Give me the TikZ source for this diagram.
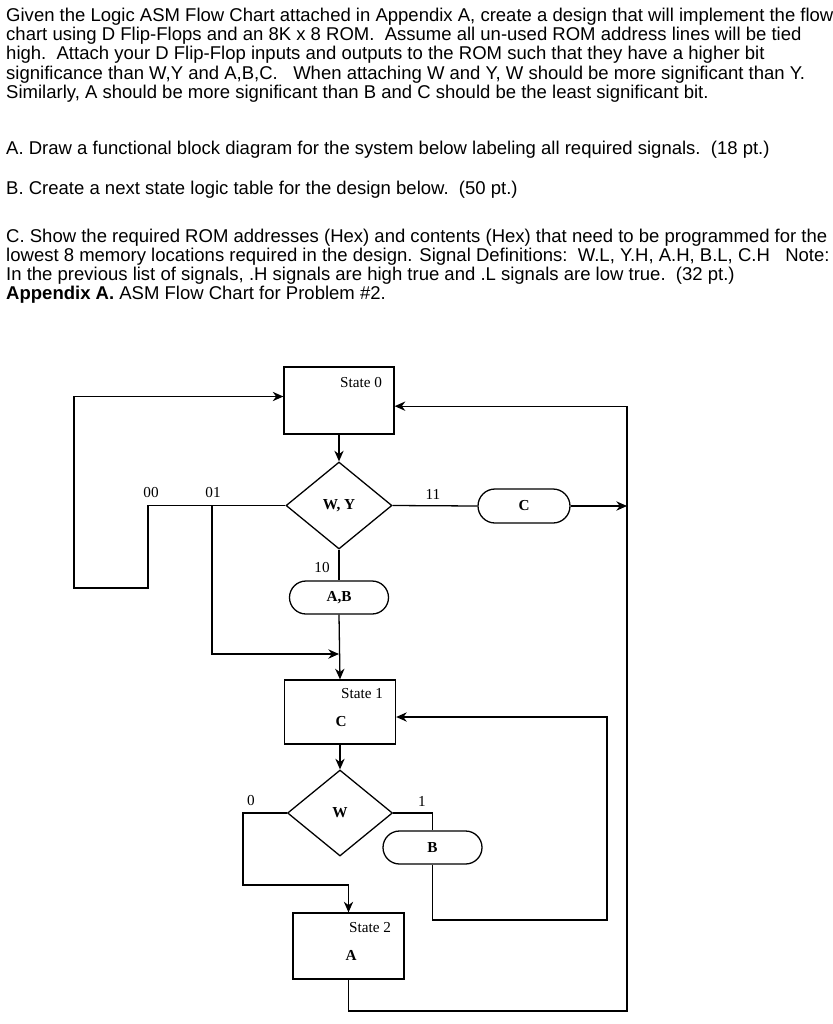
\documentclass[tikz,border=0pt]{standalone}
\usepackage{fontspec}
\setmainfont{Liberation Sans}
\newfontfamily\chartfont{Liberation Serif}
\usetikzlibrary{arrows.meta,shapes,positioning}

\begin{document}
\begin{tikzpicture}[x=0.03cm,y=-0.03cm,
    >={Stealth[length=0.32cm,width=0.28cm]},
    txt/.style={anchor=base west,inner sep=0pt,font=\fontsize{15.8}{18}\selectfont},
    wire/.style={draw,line width=1.1pt},
    statebox/.style={draw,rectangle,line width=1.1pt,inner sep=0pt},
    decision/.style={draw,diamond,line width=1.1pt,inner sep=0pt,font=\chartfont\bfseries\fontsize{13}{15}\selectfont},
    outbox/.style={draw,rounded rectangle,line width=1.1pt,inner sep=0pt,font=\chartfont\bfseries\fontsize{13}{15}\selectfont},
    lbl/.style={inner sep=0pt,font=\chartfont\fontsize{13}{15}\selectfont},
    blbl/.style={inner sep=0pt,font=\chartfont\bfseries\fontsize{13}{15}\selectfont}]
  \useasboundingbox (0,0) rectangle (833,1024);

  % question text
  \node[txt] (q1) at (6,21.5) {Given the Logic ASM Flow Chart attached in Appendix A, create a design that will implement the flow};
  \node[txt] (q2) at (6,40.5) {chart using D Flip-Flops and an 8K x 8 ROM.\ \ Assume all un-used ROM address lines will be tied};
  \node[txt] (q3) at (6,59.5) {high.\ \ Attach your D Flip-Flop inputs and outputs to the ROM such that they have a higher bit};
  \node[txt] (q4) at (6,79) {significance than W,Y and A,B,C.\ \ \ When attaching W and Y, W should be more significant than Y.};
  \node[txt] (q5) at (6,98.5) {Similarly, A should be more significant than B and C should be the least significant bit.};
  \node[txt] (pa) at (6,154) {A. Draw a functional block diagram for the system below labeling all required signals.\ \ (18 pt.)};
  \node[txt] (pb) at (6,194) {B. Create a next state logic table for the design below.\ \ (50 pt.)};
  \node[txt] (pc1) at (6,242) {C. Show the required ROM addresses (Hex) and contents (Hex) that need to be programmed for the};
  \node[txt] (pc2) at (6,261) {lowest 8 memory locations required in the design. Signal Definitions:\ \ W.L, Y.H, A.H, B.L, C.H\ \ \ Note:};
  \node[txt] (pc3) at (6,280) {In the previous list of signals, .H signals are high true and .L signals are low true.\ \ (32 pt.)};
  \node[txt] (app) at (6,299) {\textbf{Appendix A.} ASM Flow Chart for Problem \#2.};

  % flow chart
  \node[statebox,minimum width=3.3cm,minimum height=2.01cm] (s0) at (339,400.5) {};
  \node[lbl] (s0t) at (361,383) {State 0};
  \node[decision,minimum width=3.18cm,minimum height=2.61cm] (wy) at (339,505.5) {W, Y};
  \node[outbox,minimum width=2.76cm,minimum height=1.02cm] (oc) at (524,506) {C};
  \node[outbox,minimum width=2.97cm,minimum height=0.99cm] (oab) at (339,597.5) {A,B};
  \node[statebox,minimum width=3.33cm,minimum height=1.92cm] (s1) at (340,712) {};
  \node[lbl] (s1t) at (362,694) {State 1};
  \node[blbl] (s1c) at (341,722) {C};
  \node[decision,minimum width=3.15cm,minimum height=2.58cm] (wd) at (340,813) {W};
  \node[outbox,minimum width=2.97cm,minimum height=0.99cm] (ob) at (432.5,847.5) {B};
  \node[statebox,minimum width=3.33cm,minimum height=1.98cm] (s2) at (348.5,946) {};
  \node[lbl] (s2t) at (370,928) {State 2};
  \node[blbl] (s2a) at (351,955) {A};

  \node[lbl] (l00) at (151,493) {00};
  \node[lbl] (l01) at (213,493) {01};
  \node[lbl] (l11) at (433,494) {11};
  \node[lbl] (l10) at (322,568) {10};
  \node[lbl] (l0) at (251,800) {0};
  \node[lbl] (l1) at (422,801) {1};

  \coordinate (j01) at (212,505.5);
  \coordinate (cout) at (627,506);

  \draw[wire,->] (s0) -- (wy);
  \draw[wire,->] (wy.west) -- (148,505.5) -- (148,588) -- (74,588) |- ([yshift=0.12cm]s0.west);
  \draw[wire,->] (j01) -- (212,654) -- (339,654);
  \draw[wire] (wy.east) -- (oc.west);
  \draw[wire,->] (oc.east) -- (cout);
  \draw[wire,->] (s2.south) |- (627,1011) |- ([yshift=-0.17cm]s0.east);
  \draw[wire] (wy.south) -- (oab.north);
  \draw[wire,->] (oab.south) -- (s1.north);
  \draw[wire,->] (s1) -- (wd);
  \draw[wire,->] (wd.west) -| (243,885) -| (s2.north);
  \draw[wire] (wd.east) -| (ob.north);
  \draw[wire,->] (ob.south) |- (607,920) |- ([yshift=-0.15cm]s1.east);
\end{tikzpicture}
\end{document}
